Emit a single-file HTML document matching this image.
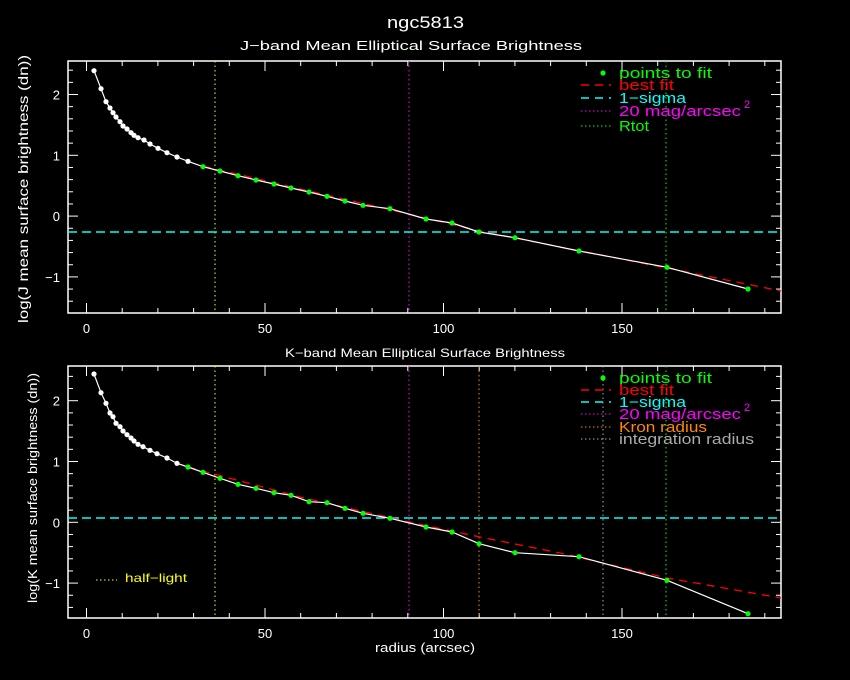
<!DOCTYPE html>
<html><head><meta charset="utf-8"><style>
html,body{margin:0;padding:0;background:#000;}
svg{display:block;font-family:"Liberation Sans",sans-serif;}
</style></head><body>
<svg id="s" width="850" height="680" xmlns="http://www.w3.org/2000/svg">
<rect width="850" height="680" fill="#000"/>
<text x="387" y="28" fill="#fff" font-size="17" textLength="77" lengthAdjust="spacingAndGlyphs">ngc5813</text>
<text x="240" y="50" fill="#fff" font-size="13" textLength="342" lengthAdjust="spacingAndGlyphs">J−band Mean Elliptical Surface Brightness</text>
<text x="285" y="357" fill="#fff" font-size="12" textLength="280" lengthAdjust="spacingAndGlyphs">K−band Mean Elliptical Surface Brightness</text>
<text x="375" y="652" fill="#fff" font-size="13" textLength="100" lengthAdjust="spacingAndGlyphs">radius (arcsec)</text>
<text transform="translate(28,323) rotate(-90)" fill="#fff" font-size="14" textLength="268" lengthAdjust="spacingAndGlyphs">log(J mean surface brightness (dn))</text>
<text transform="translate(37,603) rotate(-90)" fill="#fff" font-size="13" textLength="230" lengthAdjust="spacingAndGlyphs">log(K mean surface brightness (dn))</text>
<g id="g"></g>
</svg>
<script>
const g=document.getElementById('g');let h='';
const X=r=>86.5+r*3.57;
function panel(top,bot,y2,cy,vl,pts,fit,leg){
 const yy=v=>y2+(2-v)*60.8;
 h+=`<rect x="68" y="${top}" width="713" height="${bot-top}" fill="none" stroke="#fff" stroke-width="1.5"/>`;
 for(let r=0;r<=190;r+=10){const x=X(r),L=r%50==0?10:5;
  h+=`<line x1="${x}" y1="${bot}" x2="${x}" y2="${bot-L}" stroke="#fff"/><line x1="${x}" y1="${top}" x2="${x}" y2="${top+L}" stroke="#fff"/>`;
  if(r%50==0)h+=`<text x="${x}" y="${bot+20}" fill="#fff" font-size="13" text-anchor="middle">${r}</text>`;}
 for(let i=-8;i<=12;i++){const v=i/5,y=yy(v);if(y<top+1||y>bot-1)continue;const L=i%5==0?10:5;
  h+=`<line x1="68" y1="${y}" x2="${68+L}" y2="${y}" stroke="#fff"/><line x1="781" y1="${y}" x2="${781-L}" y2="${y}" stroke="#fff"/>`;
  if(i%5==0)h+=`<text x="60" y="${y+5}" fill="#fff" font-size="13" text-anchor="end">${v<0?'−'+(-v):v}</text>`;}
 for(const [x,c] of vl)h+=`<line x1="${x}" y1="${top}" x2="${x}" y2="${bot}" stroke="${c}" stroke-dasharray="1.5,3"/>`;
 h+=`<line x1="68" y1="${cy}" x2="781" y2="${cy}" stroke="#0ff" stroke-width="1.5" stroke-dasharray="9,5"/>`;
 h+=`<polyline points="${fit.map(p=>p.join(',')).join(' ')}" fill="none" stroke="#f00" stroke-width="1.3" stroke-dasharray="8,6"/>`;
 h+=`<polyline points="${pts.map(p=>p.join(',')).join(' ')}" fill="none" stroke="#fff" stroke-width="1.2"/>`;
 pts.forEach((p,i)=>h+=`<circle cx="${p[0]}" cy="${p[1]}" r="2.6" fill="${p[0]>=(top<100?200:185)?'#0f0':'#fff'}"/>`);
 leg.forEach(([t,c,ls,y,w])=>{
  if(ls=='dot')h+=`<circle cx="603" cy="${y-4}" r="2.6" fill="#0f0"/>`;
  else h+=`<line x1="581" y1="${y-4}" x2="611" y2="${y-4}" stroke="${c}" stroke-width="${ls=='d'?1.5:1}" stroke-dasharray="${ls=='d'?'8,6':'1.5,2.5'}"/>`;
  h+=`<text x="619" y="${y+1}" fill="${c}" font-size="15" textLength="${w}" lengthAdjust="spacingAndGlyphs">${t}</text>`;
  if(t.startsWith('20'))h+=`<text x="744" y="${y-7}" fill="${c}" font-size="11">2</text>`;});
}
panel(61,313,94.5,232,[[215,'#ff0'],[409,'#f0f'],[666,'#0f0']],
[[94,70.7],[101,88.7],[106,101.7],[110,108],[113,112.7],[116,117],[120,121.7],[123,126],[127,129],[131,132.7],[134,135.3],[138,137.7],[144,140],[150,144],[158,148.3],[167,152.7],[177,157],[188,161.3],[203,166.7],[220,171],[238,175.7],[256,180],[274,184],[291,188],[309,192],[327,196.3],[345,201],[363,205.3],[390,208.7],[426,219],[452,223],[479,232],[515,237.7],[579,251],[667,267.3],[748,289]],
[[203,166],[300,189],[400,212],[480,231],[560,247],[667,268],[781,291]],
[['points to fit','#0f0','dot',77,93],['best fit','#f00','d',89,55],['1−sigma','#0ff','d',102,67],['20 mag/arcsec','#f0f','o',115,122],['Rtot','#0f0','o',130,30]]);
panel(366,618,400.7,518,[[215,'#ff0'],[409,'#f0f'],[479,'#f80'],[603,'#aaa'],[666,'#0f0']],
[[94,374],[101,392.7],[106,403.3],[110,413],[113,416.7],[116,423.3],[120,426.7],[123,431],[127,434.7],[131,438],[134,441],[138,444.3],[143,446.7],[150,450.3],[157,453.7],[167,458],[177,463.3],[188,467],[203,472.3],[220,478.3],[238,484.3],[256,488.3],[274,492.7],[291,495.3],[309,501.7],[327,502.7],[345,508.3],[363,513.3],[390,518.3],[426,527],[452,532],[479,543.7],[515,552.7],[579,556.7],[667,580.3],[748,613.7]],
[[188,467],[300,497],[400,520],[480,537],[560,553],[667,578],[781,598]],
[['points to fit','#0f0','dot',382,93],['best fit','#f00','d',394,55],['1−sigma','#0ff','d',406,67],['20 mag/arcsec','#f0f','o',418,122],['Kron radius','#f80','o',431,88],['integration radius','#aaa','o',443,135]]);
h+=`<line x1="96" y1="580" x2="117" y2="580" stroke="#ff0" stroke-dasharray="1.5,2.5"/><text x="125" y="582" fill="#ff0" font-size="12" textLength="62" lengthAdjust="spacingAndGlyphs">half−light</text>`;
g.innerHTML=h;
</script>
</body></html>
